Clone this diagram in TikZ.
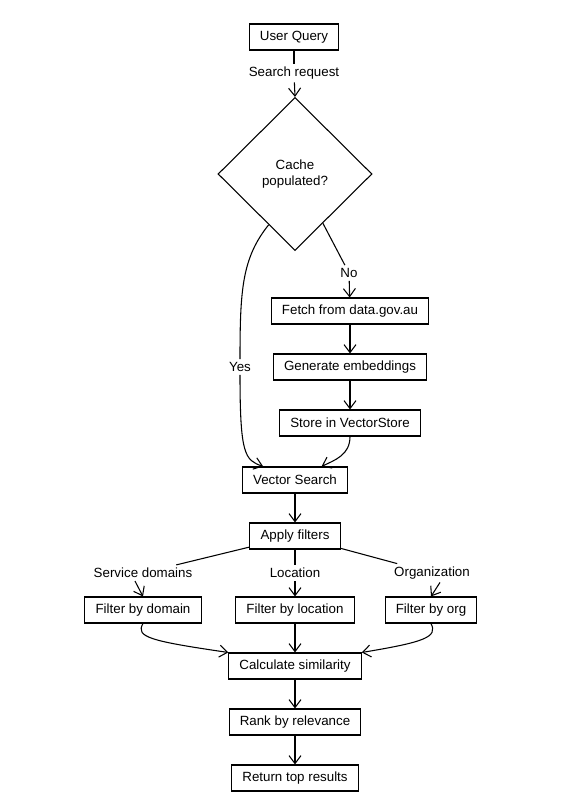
\documentclass[tikz,border=0pt]{standalone}
\usepackage{fontspec}
\setmainfont{Liberation Sans}
\usetikzlibrary{calc,positioning,arrows.meta,shapes.geometric}

\begin{document}
\begin{tikzpicture}[x=0.75pt, y=-0.75pt, line width=0.8pt,
  font=\fontsize{10}{12}\selectfont,
  box/.style={draw, rectangle, minimum height=19.5pt, inner xsep=8pt},
  lbl/.style={inner sep=2pt},
  >={Straight Barb[length=6pt,width=9pt]}]

\useasboundingbox (0,0) rectangle (586,812);

% main column
\node[box] (query) at (294,37) {User Query};
\node[lbl] (reqlbl) at (294,73) {Search request};
\node[draw, diamond, minimum width=115.5pt, minimum height=114.75pt, inner sep=0pt, align=center] (cache) at (295,174) {Cache\\populated?};
\node[lbl] (nolbl) at (349,273) {No};
\node[lbl] (yes) at (240,367) {Yes};
\node[box] (fetch) at (350,311) {Fetch from data.gov.au};
\node[box] (embed) at (350,367) {Generate embeddings};
\node[box] (store) at (350,423) {Store in VectorStore};
\node[box] (vsearch) at (295,480) {Vector Search};
\node[box] (apply) at (295,536) {Apply filters};

% filters
\node[lbl] (svclbl) at (143,573) {Service domains};
\node[lbl] (loclbl) at (295,573) {Location};
\node[lbl] (orglbl) at (432,573) {Organization};
\node[box] (fdomain) at (143,610) {Filter by domain};
\node[box] (flocation) at (295,610) {Filter by location};
\node[box] (forg) at (431,610) {Filter by org};

\node[box] (calc) at (295,666) {Calculate similarity};
\node[box] (rank) at (295,722) {Rank by relevance};
\node[box] (results) at (295,778) {Return top results};

\draw (query) -- (reqlbl);
\draw[->] (reqlbl) -- (cache.north);
\draw ($(cache.west)!0.66!(cache.south)$) .. controls (242,258) and (240,290) .. (yes);
\draw[->] (yes) .. controls (240,455) and (245,460) .. ($(vsearch.north west)!0.2!(vsearch.north east)$);
\draw ($(cache.south)!0.36!(cache.east)$) -- (nolbl);
\draw[->] (nolbl) -- (fetch);
\foreach \a/\b in {fetch/embed, embed/store, vsearch/apply, flocation/calc, calc/rank, rank/results}
  {\draw[->] (\a) -- (\b);}
\draw[->] (store.south) .. controls (350,455) and (335,460) .. ($(vsearch.north east)!0.25!(vsearch.north west)$);

\foreach \l in {svclbl, loclbl, orglbl} {\draw (apply) -- (\l);}
\draw[->] ($(svclbl.south)+(-8,0)$) -- (fdomain.north);
\draw[->] (loclbl) -- (flocation);
\draw[->] ($(orglbl.south)+(8,0)$) -- (forg.north);
\draw[->] (fdomain.south) .. controls (135,637) and (150,641) .. (calc.north west);
\draw[->] (forg.south) .. controls (438,637) and (425,642) .. (calc.north east);
\end{tikzpicture}
\end{document}
